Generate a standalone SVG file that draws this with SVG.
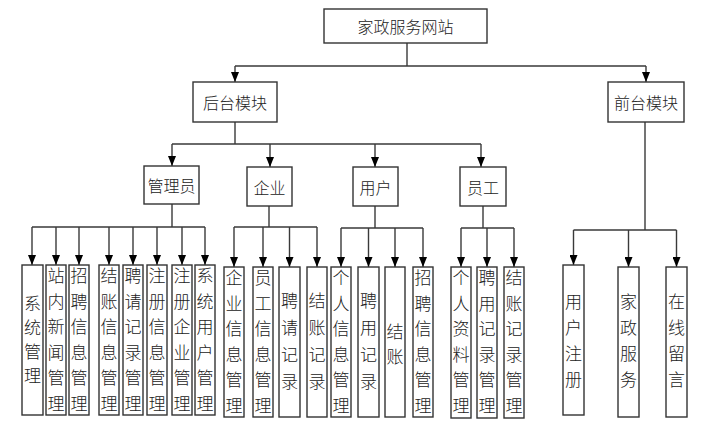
<svg xmlns="http://www.w3.org/2000/svg" width="703" height="443" viewBox="0 0 703 443">
<style>
.box{fill:#fff;stroke:#333;stroke-width:1.4}
.t{font-family:"Noto Sans CJK SC","Noto Sans CJK JP",sans-serif;font-size:16px;font-weight:300;fill:#222;text-anchor:middle;dominant-baseline:central}
.v{font-family:"Noto Sans CJK SC","Noto Sans CJK JP",sans-serif;font-size:17px;font-weight:300;fill:#222;text-anchor:middle;dominant-baseline:central}
.c{stroke:#3a3a3a;stroke-width:1.4;fill:none}
.a{stroke:#3a3a3a;stroke-width:1.4;fill:none;marker-end:url(#arr)}
</style>
<defs>
<marker id="arr" markerUnits="userSpaceOnUse" markerWidth="10" markerHeight="8" refX="10" refY="4" orient="auto" viewBox="0 0 10 8">
<path d="M0,0 L10,4 L0,8 z" fill="#000"/>
</marker>
</defs>
<rect width="703" height="443" fill="#fff"/>
<g id="connectors">
<path class="c" d="M407,43 V66 M235,66 H646"/>
<path class="a" d="M235,66 V82"/>
<path class="a" d="M646,66 V82"/>
<path class="c" d="M235,122 V144 M172,144 H481"/>
<path class="a" d="M172,144 V166"/>
<path class="a" d="M270,144 V167"/>
<path class="a" d="M375,144 V167"/>
<path class="a" d="M481,144 V167"/>
<path class="c" d="M172,204 V227 M32,227 H205"/>
<path class="a" d="M32,227 V265"/>
<path class="a" d="M56,227 V265"/>
<path class="a" d="M79,227 V265"/>
<path class="a" d="M109,227 V265"/>
<path class="a" d="M133,227 V265"/>
<path class="a" d="M157,227 V265"/>
<path class="a" d="M182,227 V265"/>
<path class="a" d="M205,227 V265"/>
<path class="c" d="M269,206 V227 M234,227 H317"/>
<path class="a" d="M234,227 V267"/>
<path class="a" d="M263,227 V267"/>
<path class="a" d="M289.5,227 V267"/>
<path class="a" d="M317,227 V267"/>
<path class="c" d="M375,206 V228 M341,228 H423"/>
<path class="a" d="M341,228 V267"/>
<path class="a" d="M368.5,228 V267"/>
<path class="a" d="M395,228 V267"/>
<path class="a" d="M423,228 V267"/>
<path class="c" d="M483,206 V228 M461,228 H514"/>
<path class="a" d="M461,228 V267"/>
<path class="a" d="M487,228 V267"/>
<path class="a" d="M514,228 V267"/>
<path class="c" d="M645,122 V230 M573.5,230 H676.5"/>
<path class="a" d="M573.5,230 V265"/>
<path class="a" d="M628.5,230 V267"/>
<path class="a" d="M676.5,230 V267"/>
</g>
<g id="root"><rect class="box" x="324" y="9" width="163" height="34"/><text class="t" x="405.5" y="26">家政服务网站</text></g>
<g id="backend"><rect class="box" x="193" y="82" width="84" height="40"/><text class="t" x="235" y="102">后台模块</text></g>
<g id="frontend"><rect class="box" x="608" y="82" width="76" height="40"/><text class="t" x="646" y="102">前台模块</text></g>
<g id="admin"><rect class="box" x="144" y="166" width="55" height="38"/><text class="t" x="171.5" y="185">管理员</text></g>
<g id="company"><rect class="box" x="247" y="167" width="45" height="39"/><text class="t" x="269.5" y="186.5">企业</text></g>
<g id="user"><rect class="box" x="353" y="167" width="45" height="39"/><text class="t" x="375.5" y="186.5">用户</text></g>
<g id="staff"><rect class="box" x="460" y="167" width="46" height="39"/><text class="t" x="483" y="186.5">员工</text></g>

<g id="n1"><rect class="box" x="22" y="265" width="21" height="150"/><text class="v"><tspan x="32.5" y="302">系</tspan><tspan x="32.5" y="326">统</tspan><tspan x="32.5" y="350">管</tspan><tspan x="32.5" y="374">理</tspan></text></g>
<g id="n2"><rect class="box" x="46" y="265" width="20" height="150"/><text class="v"><tspan x="56" y="274">站</tspan><tspan x="56" y="299.5">内</tspan><tspan x="56" y="325">新</tspan><tspan x="56" y="350.5">闻</tspan><tspan x="56" y="376">管</tspan><tspan x="56" y="401.5">理</tspan></text></g>
<g id="n3"><rect class="box" x="69" y="265" width="20" height="150"/><text class="v"><tspan x="79" y="274">招</tspan><tspan x="79" y="299.5">聘</tspan><tspan x="79" y="325">信</tspan><tspan x="79" y="350.5">息</tspan><tspan x="79" y="376">管</tspan><tspan x="79" y="401.5">理</tspan></text></g>
<g id="n4"><rect class="box" x="99" y="265" width="20" height="150"/><text class="v"><tspan x="109" y="274">结</tspan><tspan x="109" y="299.5">账</tspan><tspan x="109" y="325">信</tspan><tspan x="109" y="350.5">息</tspan><tspan x="109" y="376">管</tspan><tspan x="109" y="401.5">理</tspan></text></g>
<g id="n5"><rect class="box" x="123" y="265" width="20" height="150"/><text class="v"><tspan x="133" y="274">聘</tspan><tspan x="133" y="299.5">请</tspan><tspan x="133" y="325">记</tspan><tspan x="133" y="350.5">录</tspan><tspan x="133" y="376">管</tspan><tspan x="133" y="401.5">理</tspan></text></g>
<g id="n6"><rect class="box" x="147" y="265" width="20" height="150"/><text class="v"><tspan x="157" y="274">注</tspan><tspan x="157" y="299.5">册</tspan><tspan x="157" y="325">信</tspan><tspan x="157" y="350.5">息</tspan><tspan x="157" y="376">管</tspan><tspan x="157" y="401.5">理</tspan></text></g>
<g id="n7"><rect class="box" x="172" y="265" width="20" height="150"/><text class="v"><tspan x="182" y="274">注</tspan><tspan x="182" y="299.5">册</tspan><tspan x="182" y="325">企</tspan><tspan x="182" y="350.5">业</tspan><tspan x="182" y="376">管</tspan><tspan x="182" y="401.5">理</tspan></text></g>
<g id="n8"><rect class="box" x="195" y="265" width="20" height="150"/><text class="v"><tspan x="205" y="274">系</tspan><tspan x="205" y="299.5">统</tspan><tspan x="205" y="325">用</tspan><tspan x="205" y="350.5">户</tspan><tspan x="205" y="376">管</tspan><tspan x="205" y="401.5">理</tspan></text></g>

<g id="n9"><rect class="box" x="224" y="267" width="20" height="150"/><text class="v"><tspan x="234" y="276">企</tspan><tspan x="234" y="301.5">业</tspan><tspan x="234" y="327">信</tspan><tspan x="234" y="352.5">息</tspan><tspan x="234" y="378">管</tspan><tspan x="234" y="403.5">理</tspan></text></g>
<g id="n10"><rect class="box" x="253" y="267" width="20" height="150"/><text class="v"><tspan x="263" y="276">员</tspan><tspan x="263" y="301.5">工</tspan><tspan x="263" y="327">信</tspan><tspan x="263" y="352.5">息</tspan><tspan x="263" y="378">管</tspan><tspan x="263" y="403.5">理</tspan></text></g>
<g id="n11"><rect class="box" x="279" y="267" width="21" height="150"/><text class="v"><tspan x="289.5" y="299">聘</tspan><tspan x="289.5" y="326">请</tspan><tspan x="289.5" y="353">记</tspan><tspan x="289.5" y="380">录</tspan></text></g>
<g id="n12"><rect class="box" x="307" y="267" width="20" height="150"/><text class="v"><tspan x="317" y="299">结</tspan><tspan x="317" y="326">账</tspan><tspan x="317" y="353">记</tspan><tspan x="317" y="380">录</tspan></text></g>

<g id="n13"><rect class="box" x="331" y="267" width="20" height="150"/><text class="v"><tspan x="341" y="276">个</tspan><tspan x="341" y="301.5">人</tspan><tspan x="341" y="327">信</tspan><tspan x="341" y="352.5">息</tspan><tspan x="341" y="378">管</tspan><tspan x="341" y="403.5">理</tspan></text></g>
<g id="n14"><rect class="box" x="358" y="267" width="21" height="150"/><text class="v"><tspan x="368.5" y="299">聘</tspan><tspan x="368.5" y="326">用</tspan><tspan x="368.5" y="353">记</tspan><tspan x="368.5" y="380">录</tspan></text></g>
<g id="n15"><rect class="box" x="385" y="267" width="20" height="150"/><text class="v"><tspan x="395" y="330">结</tspan><tspan x="395" y="355">账</tspan></text></g>
<g id="n16"><rect class="box" x="413" y="267" width="20" height="150"/><text class="v"><tspan x="423" y="276">招</tspan><tspan x="423" y="301.5">聘</tspan><tspan x="423" y="327">信</tspan><tspan x="423" y="352.5">息</tspan><tspan x="423" y="378">管</tspan><tspan x="423" y="403.5">理</tspan></text></g>

<g id="n17"><rect class="box" x="451" y="267" width="20" height="151"/><text class="v"><tspan x="461" y="276">个</tspan><tspan x="461" y="301.5">人</tspan><tspan x="461" y="327">资</tspan><tspan x="461" y="352.5">料</tspan><tspan x="461" y="378">管</tspan><tspan x="461" y="403.5">理</tspan></text></g>
<g id="n18"><rect class="box" x="477" y="267" width="20" height="151"/><text class="v"><tspan x="487" y="276">聘</tspan><tspan x="487" y="301.5">用</tspan><tspan x="487" y="327">记</tspan><tspan x="487" y="352.5">录</tspan><tspan x="487" y="378">管</tspan><tspan x="487" y="403.5">理</tspan></text></g>
<g id="n19"><rect class="box" x="504" y="267" width="20" height="151"/><text class="v"><tspan x="514" y="276">结</tspan><tspan x="514" y="301.5">账</tspan><tspan x="514" y="327">记</tspan><tspan x="514" y="352.5">录</tspan><tspan x="514" y="378">管</tspan><tspan x="514" y="403.5">理</tspan></text></g>

<g id="n20"><rect class="box" x="563" y="265" width="21" height="150"/><text class="v"><tspan x="573.5" y="300">用</tspan><tspan x="573.5" y="326">户</tspan><tspan x="573.5" y="352">注</tspan><tspan x="573.5" y="378">册</tspan></text></g>
<g id="n21"><rect class="box" x="618" y="267" width="21" height="150"/><text class="v"><tspan x="628.5" y="300">家</tspan><tspan x="628.5" y="326">政</tspan><tspan x="628.5" y="352">服</tspan><tspan x="628.5" y="378">务</tspan></text></g>
<g id="n22"><rect class="box" x="666" y="267" width="21" height="150"/><text class="v"><tspan x="676.5" y="300">在</tspan><tspan x="676.5" y="326">线</tspan><tspan x="676.5" y="352">留</tspan><tspan x="676.5" y="378">言</tspan></text></g>
</svg>
